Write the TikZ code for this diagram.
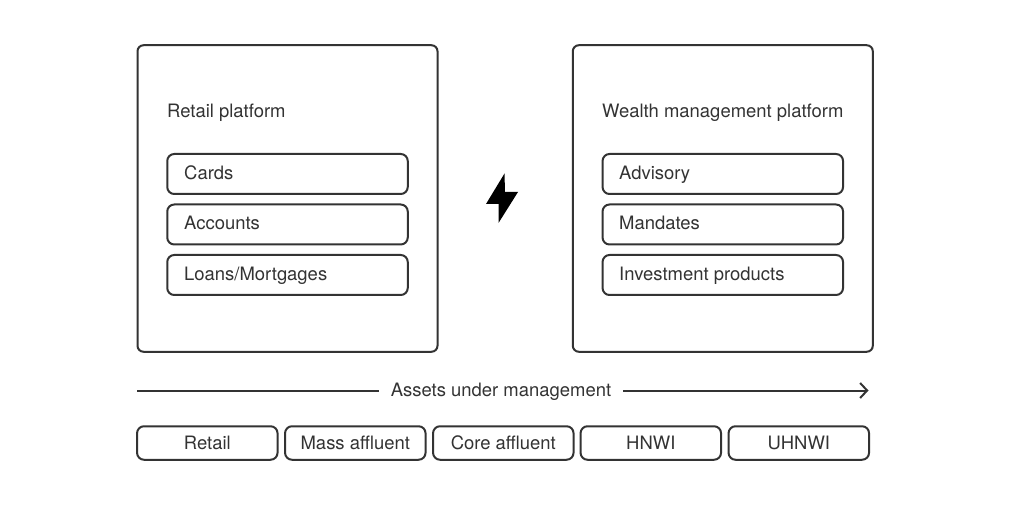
\documentclass[tikz,border=0pt]{standalone}
\usepackage{fontspec}
\usetikzlibrary{arrows.meta}
\setmainfont{TeX Gyre Heros}
\definecolor{ink}{HTML}{333333}
\tikzset{x=1pt,y=-1pt,
 panel/.style={draw=ink,line width=2pt,rounded corners=6pt,minimum width=300pt,minimum height=306.5pt,inner sep=0pt},
 item/.style={draw=ink,line width=2pt,rounded corners=7pt,minimum width=240.5pt,minimum height=40pt,inner sep=0pt},
 seg/.style={draw=ink,line width=2pt,rounded corners=7pt,minimum width=140.5pt,minimum height=33.5pt,inner sep=0pt},
 txt/.style={inner sep=0pt,text=ink,font=\fontsize{18.45}{20}\selectfont},
 lab/.style={txt,anchor=base west},
 ctr/.style={txt,anchor=base}}
\begin{document}
\begin{tikzpicture}
\useasboundingbox (0,0) rectangle (1010,505);
\node[panel] (p1) at (287.5,198.5) {};
\node[panel] (p2) at (722.8,198.5) {};
\node[lab] (t1) at (167,117.5) {Retail platform};
\node[lab] (t2) at (602,117.5) {Wealth management platform};
\node[item] (a1) at (287.5,174) {};
\node[item] (a2) at (287.5,224.5) {};
\node[item] (a3) at (287.5,275) {};
\node[item] (b1) at (722.8,174) {};
\node[item] (b2) at (722.8,224.5) {};
\node[item] (b3) at (722.8,275) {};
\node[lab] (a1t) at (184,179.5) {Cards};
\node[lab] (a2t) at (184,229.7) {Accounts};
\node[lab] (a3t) at (184,280) {Loans/Mortgages};
\node[lab] (b1t) at (619,179.5) {Advisory};
\node[lab] (b2t) at (619,229.7) {Mandates};
\node[lab] (b3t) at (619,280) {Investment products};
\fill[black] (504.5,173.5) -- (486,204) -- (498.5,204) -- (498.5,223) -- (518,192) -- (505,192) -- cycle;
\coordinate (s) at (137,390.5);
\coordinate (sb) at (379,390.5);
\coordinate (ea) at (623,390.5);
\coordinate (e) at (868.5,390.5);
\node[ctr] (m) at (501,396) {Assets under management};
\draw[ink,line width=2pt] (s) -- (sb);
\draw[ink,line width=2pt,-{Straight Barb[length=7pt,width=15pt]}] (ea) -- (e);
\node[seg] (c1) at (207.3,443) {};
\node[seg] (c2) at (355.3,443) {};
\node[seg] (c3) at (503.3,443) {};
\node[seg] (c4) at (650.8,443) {};
\node[seg] (c5) at (798.8,443) {};
\node[ctr] (c1t) at (207.3,449) {Retail};
\node[ctr] (c2t) at (355.3,449) {Mass affluent};
\node[ctr] (c3t) at (503.3,449) {Core affluent};
\node[ctr] (c4t) at (650.8,449) {HNWI};
\node[ctr] (c5t) at (798.8,449) {UHNWI};
\end{tikzpicture}
\end{document}
